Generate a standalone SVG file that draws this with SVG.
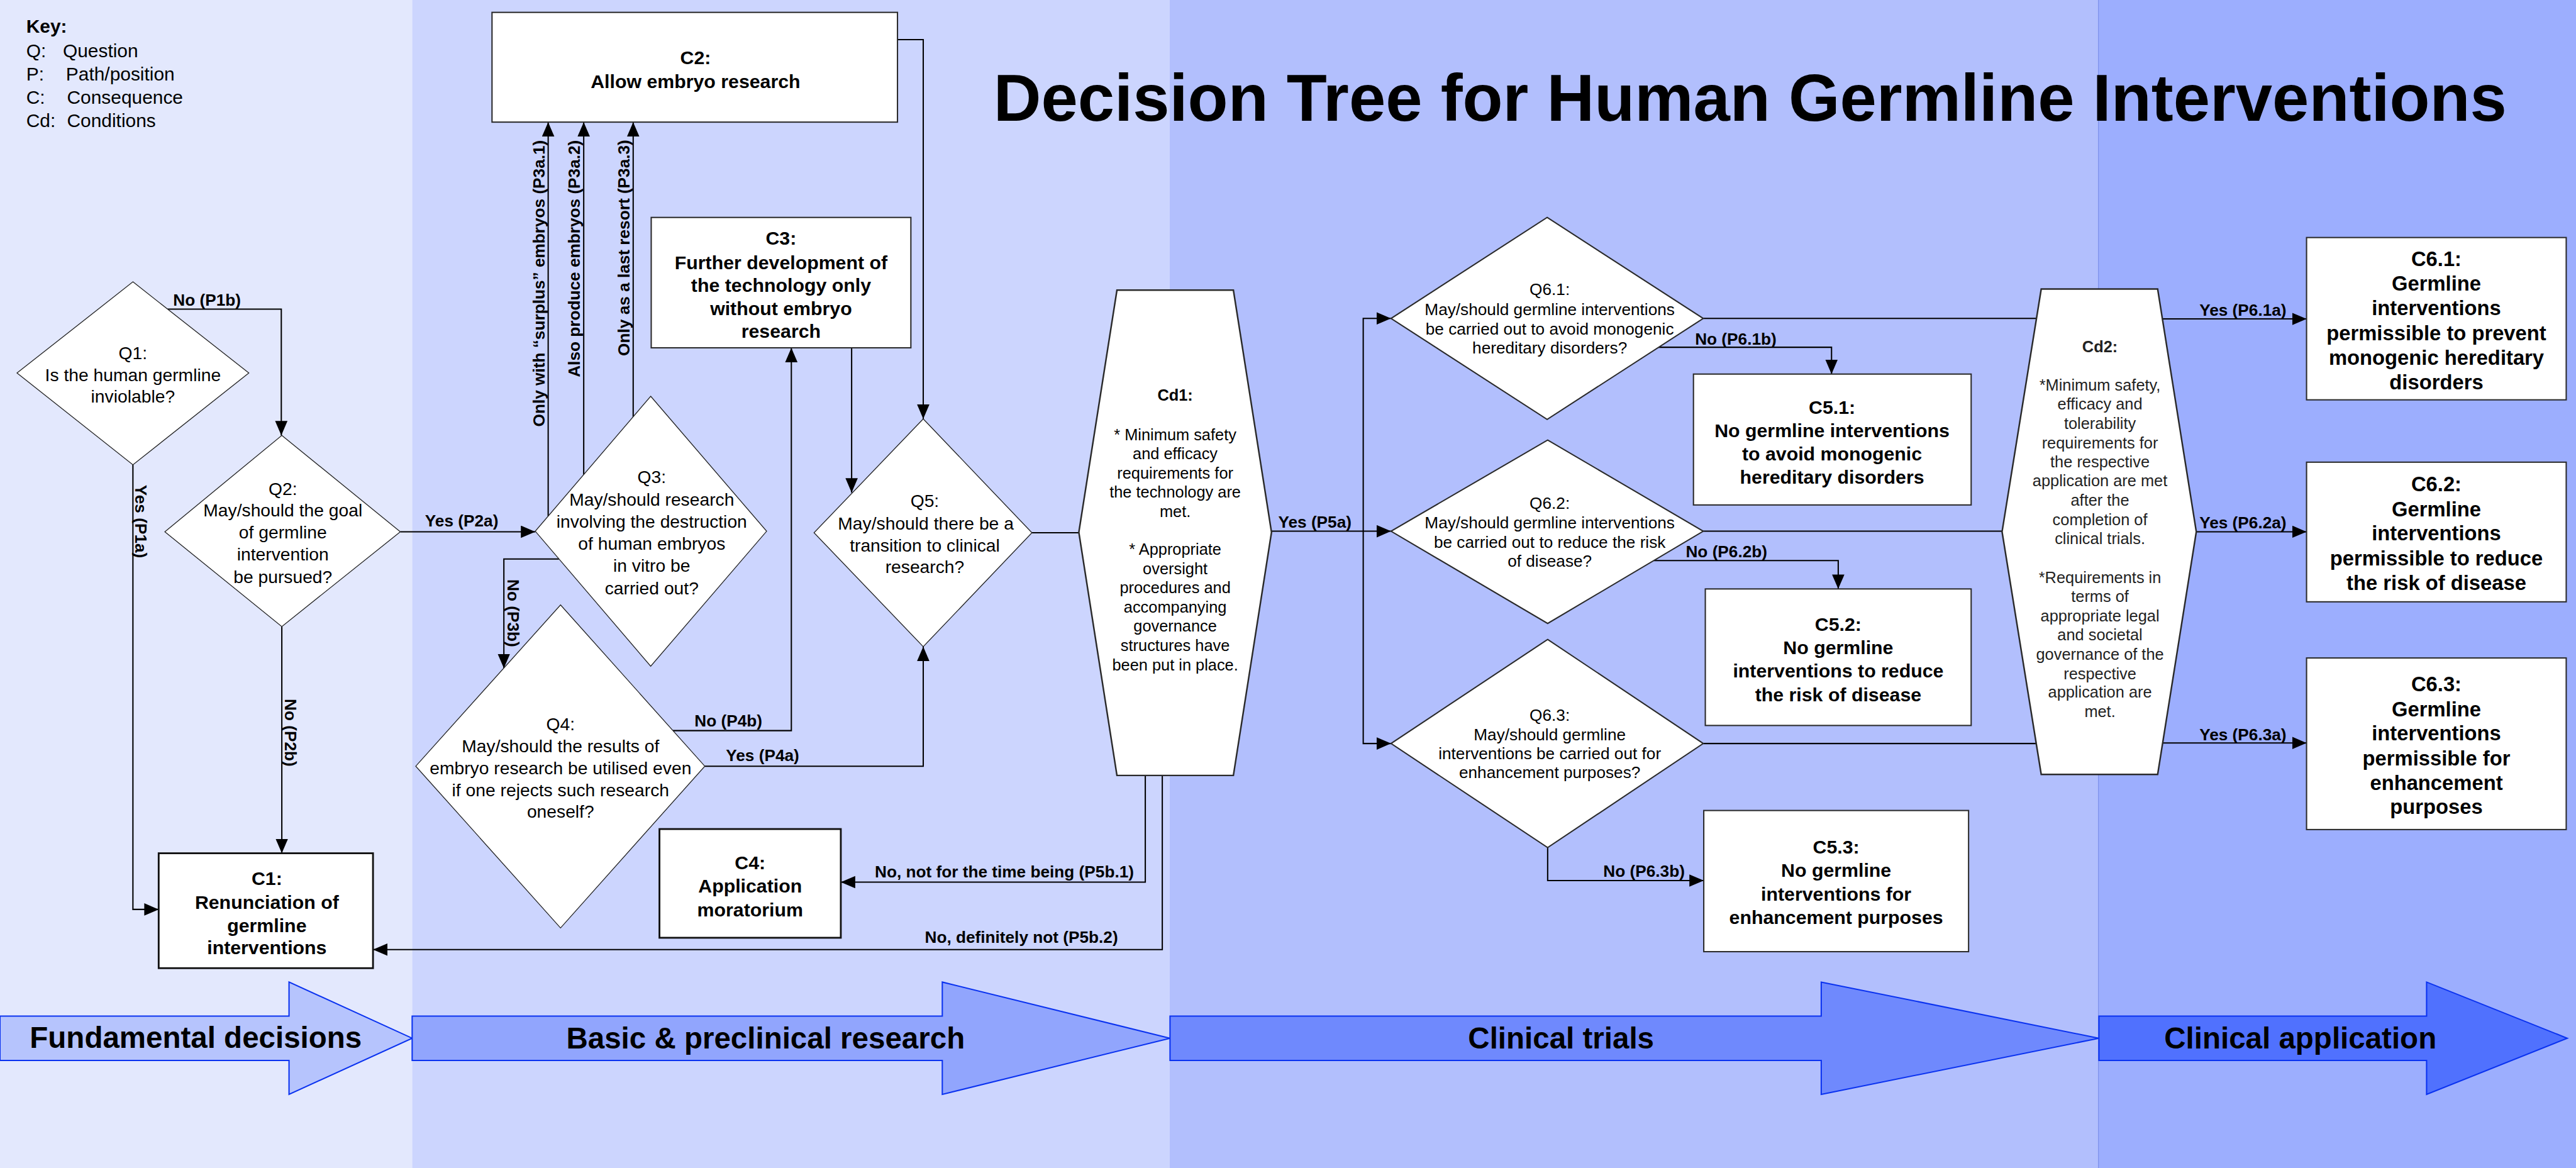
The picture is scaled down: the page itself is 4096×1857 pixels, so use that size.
<svg xmlns="http://www.w3.org/2000/svg" width="4096" height="1857" viewBox="0 0 4096 1857">
<style>
text { font-family: "Liberation Sans", Arial, Helvetica, sans-serif; fill: #000; }
.q { font-size: 34.5px; text-anchor: middle; }
.q6 { font-size: 32px; text-anchor: middle; }
.cd { font-size: 31px; text-anchor: middle; }
.c { font-size: 37px; font-weight: bold; text-anchor: middle; }
.c6 { font-size: 40px; font-weight: bold; text-anchor: middle; }
.lbl { font-size: 32px; font-weight: bold; }
.lblm { font-size: 32px; font-weight: bold; text-anchor: middle; }
.ph { font-size: 58px; font-weight: bold; text-anchor: middle; }
.key { font-size: 36.5px; }
.dia { fill: #fff; stroke: #222; stroke-width: 1.6; }
.dia6 { fill: #fff; stroke: #2a2a2a; stroke-width: 2.5; }
.box { fill: #fff; stroke: #2a2a2a; stroke-width: 2.5; }
.boxk { fill: #fff; stroke: #111; stroke-width: 3.5; }
.hex { fill: #fff; stroke: #2a2a2a; stroke-width: 3; }
.con { fill: none; stroke: #000; stroke-width: 2.5; }
.arr { stroke: #0a32f0; stroke-width: 2.5; }
</style>
<defs>
<marker id="ah" markerUnits="userSpaceOnUse" markerWidth="30" markerHeight="26" refX="28" refY="12" orient="auto">
<path d="M0,0 L28,12 L0,24 z" fill="#000"/>
</marker>
</defs>
<g transform="scale(0.8192)">
<g id="background">
<rect x="0" y="0" width="800" height="2267" fill="#E3E8FD"/>
<rect x="800" y="0" width="1470" height="2267" fill="#CCD5FE"/>
<rect x="2270" y="0" width="1803" height="2267" fill="#B2BFFD"/>
<rect x="4073" y="0" width="927" height="2267" fill="#9CAEFE"/>
<line x1="4073" y1="0" x2="4073" y2="2267" stroke="#7f92ea" stroke-width="1.5"/>
</g>
<g id="phases">
<polygon class="arr" fill="#B6C4FD" points="0,1972 561,1972 561,1906 800,2015 561,2124 561,2058 0,2058"/>
<polygon class="arr" fill="#91A5FD" points="800,1972 1829,1972 1829,1906 2271,2015 1829,2124 1829,2058 800,2058"/>
<polygon class="arr" fill="#6F89FD" points="2271,1972 3535,1972 3535,1906 4074,2015 3535,2124 3535,2058 2271,2058"/>
<polygon class="arr" fill="#5071FE" points="4074,1972 4710,1972 4710,1906 4983,2015 4710,2124 4710,2058 4074,2058"/>
<text class="ph" x="380" y="2034">Fundamental decisions</text>
<text class="ph" x="1486" y="2035">Basic &amp; preclinical research</text>
<text class="ph" x="3030" y="2035">Clinical trials</text>
<text class="ph" x="4465" y="2035">Clinical application</text>
</g>
<text id="title" x="3397" y="234" font-size="128" font-weight="bold" text-anchor="middle">Decision Tree for Human Germline Interventions</text>
<g id="key">
<text class="key" x="51" y="64" font-weight="bold">Key:</text>
<text class="key" x="51" y="111">Q:</text><text class="key" x="122" y="111">Question</text>
<text class="key" x="51" y="156">P:</text><text class="key" x="128" y="156">Path/position</text>
<text class="key" x="51" y="202">C:</text><text class="key" x="130" y="202">Consequence</text>
<text class="key" x="51" y="247">Cd:</text><text class="key" x="130" y="247">Conditions</text>
</g>
<g id="connectors">
<path class="con" d="M325,600 H546 V845" marker-end="url(#ah)"/>
<path class="con" d="M258,902 V1765 H308" marker-end="url(#ah)"/>
<path class="con" d="M547,1216 V1656" marker-end="url(#ah)"/>
<path class="con" d="M777,1032 H1039" marker-end="url(#ah)"/>
<path class="con" d="M1064,1002 V237" marker-end="url(#ah)"/>
<path class="con" d="M1133,921 V237" marker-end="url(#ah)"/>
<path class="con" d="M1229,810 V237" marker-end="url(#ah)"/>
<path class="con" d="M1085,1085 H978 V1297" marker-end="url(#ah)"/>
<path class="con" d="M1306,1418 H1536 V675" marker-end="url(#ah)"/>
<path class="con" d="M1368,1487 H1792 V1255" marker-end="url(#ah)"/>
<path class="con" d="M1742,77 H1792 V813" marker-end="url(#ah)"/>
<path class="con" d="M1653,675 V956" marker-end="url(#ah)"/>
<path class="con" d="M2003,1034 H2094"/>
<path class="con" d="M2468,1031 H2700" marker-end="url(#ah)"/>
<path class="con" d="M2646,1031 V618 H2700" marker-end="url(#ah)"/>
<path class="con" d="M2646,1031 V1443 H2700" marker-end="url(#ah)"/>
<path class="con" d="M2223,1505 V1712 H1632" marker-end="url(#ah)"/>
<path class="con" d="M2256,1505 V1843 H724" marker-end="url(#ah)"/>
<path class="con" d="M3219,674 H3555 V726" marker-end="url(#ah)"/>
<path class="con" d="M3210,1088 H3568 V1143" marker-end="url(#ah)"/>
<path class="con" d="M3004,1645 V1709 H3307" marker-end="url(#ah)"/>
<path class="con" d="M3306,618 H3953"/>
<path class="con" d="M3306,1031 H3886"/>
<path class="con" d="M3306,1443 H3952"/>
<path class="con" d="M4197,619 H4477" marker-end="url(#ah)"/>
<path class="con" d="M4263,1032 H4477" marker-end="url(#ah)"/>
<path class="con" d="M4198,1442 H4477" marker-end="url(#ah)"/>
<text class="lbl" x="336" y="593">No (P1b)</text>
<text class="lblm" transform="translate(263,1012) rotate(90)">Yes (P1a)</text>
<text class="lblm" transform="translate(553,1422) rotate(90)">No (P2b)</text>
<text class="lbl" x="825" y="1022">Yes (P2a)</text>
<text class="lblm" transform="translate(1057,550) rotate(-90)">Only with “surplus” embryos (P3a.1)</text>
<text class="lblm" transform="translate(1126,502) rotate(-90)">Also produce embryos (P3a.2)</text>
<text class="lblm" transform="translate(1222,481) rotate(-90)">Only as a last resort (P3a.3)</text>
<text class="lblm" transform="translate(985,1190) rotate(90)">No (P3b)</text>
<text class="lbl" x="1348" y="1410">No (P4b)</text>
<text class="lbl" x="1409" y="1477">Yes (P4a)</text>
<text class="lbl" x="2481" y="1024">Yes (P5a)</text>
<text class="lbl" x="1698" y="1703">No, not for the time being (P5b.1)</text>
<text class="lbl" x="1795" y="1830">No, definitely not (P5b.2)</text>
<text class="lbl" x="3290" y="669">No (P6.1b)</text>
<text class="lbl" x="3272" y="1082">No (P6.2b)</text>
<text class="lbl" x="3112" y="1702">No (P6.3b)</text>
<text class="lbl" x="4269" y="613">Yes (P6.1a)</text>
<text class="lbl" x="4269" y="1026">Yes (P6.2a)</text>
<text class="lbl" x="4269" y="1437">Yes (P6.3a)</text>
</g>
<g id="Q1">
<polygon class="dia" points="258,547 483,724 258,902 33,724"/>
<text class="q"><tspan x="258" y="697">Q1:</tspan><tspan x="258" y="740">Is the human germline</tspan><tspan x="258" y="781">inviolable?</tspan></text>
</g>
<g id="Q2">
<polygon class="dia" points="547,845 777,1032 547,1216 320,1032"/>
<text class="q"><tspan x="549" y="961">Q2:</tspan><tspan x="549" y="1002">May/should the goal</tspan><tspan x="549" y="1045">of germline</tspan><tspan x="549" y="1088">intervention</tspan><tspan x="549" y="1131">be pursued?</tspan></text>
</g>
<g id="Q3">
<polygon class="dia" points="1263,769 1488,1031 1263,1293 1039,1031"/>
<text class="q"><tspan x="1265" y="938">Q3:</tspan><tspan x="1265" y="982">May/should research</tspan><tspan x="1265" y="1024">involving the destruction</tspan><tspan x="1265" y="1067">of human embryos</tspan><tspan x="1265" y="1110">in vitro be</tspan><tspan x="1265" y="1153">carried out?</tspan></text>
</g>
<g id="Q4">
<polygon class="dia" points="1088,1174 1368,1487 1088,1801 807,1487"/>
<text class="q"><tspan x="1088" y="1417">Q4:</tspan><tspan x="1088" y="1460">May/should the results of</tspan><tspan x="1088" y="1503">embryo research be utilised even</tspan><tspan x="1088" y="1545">if one rejects such research</tspan><tspan x="1088" y="1587">oneself?</tspan></text>
</g>
<g id="Q5">
<polygon class="dia" points="1792,813 2003,1034 1792,1255 1580,1034"/>
<text class="q"><tspan x="1795" y="984">Q5:</tspan><tspan x="1797" y="1028">May/should there be a</tspan><tspan x="1795" y="1070">transition to clinical</tspan><tspan x="1795" y="1112">research?</tspan></text>
</g>
<g id="C1">
<rect class="boxk" x="308" y="1656" width="416" height="223"/>
<text class="c"><tspan x="518" y="1718">C1:</tspan><tspan x="518" y="1764">Renunciation of</tspan><tspan x="518" y="1809">germline</tspan><tspan x="518" y="1852">interventions</tspan></text>
</g>
<g id="C2">
<rect class="box" x="955" y="24" width="787" height="213"/>
<text class="c"><tspan x="1350" y="124">C2:</tspan><tspan x="1350" y="171">Allow embryo research</tspan></text>
</g>
<g id="C3">
<rect class="box" x="1264" y="422" width="504" height="253"/>
<text class="c"><tspan x="1516" y="475">C3:</tspan><tspan x="1516" y="522">Further development of</tspan><tspan x="1516" y="566">the technology only</tspan><tspan x="1516" y="612">without embryo</tspan><tspan x="1516" y="656">research</tspan></text>
</g>
<g id="C4">
<rect class="boxk" x="1280" y="1609" width="352" height="211"/>
<text class="c"><tspan x="1456" y="1687">C4:</tspan><tspan x="1456" y="1732">Application</tspan><tspan x="1456" y="1778">moratorium</tspan></text>
</g>
<g id="Cd1">
<polygon class="hex" points="2168,563 2394,563 2468,1033 2394,1505 2168,1505 2094,1033"/>
<text class="cd"><tspan x="2281" y="777" font-weight="bold">Cd1:</tspan><tspan x="2281" y="854">* Minimum safety</tspan><tspan x="2281" y="891">and efficacy</tspan><tspan x="2281" y="929">requirements for</tspan><tspan x="2281" y="966">the technology are</tspan><tspan x="2281" y="1004">met.</tspan><tspan x="2281" y="1077">* Appropriate</tspan><tspan x="2281" y="1114">oversight</tspan><tspan x="2281" y="1151">procedures and</tspan><tspan x="2281" y="1189">accompanying</tspan><tspan x="2281" y="1226">governance</tspan><tspan x="2281" y="1263">structures have</tspan><tspan x="2281" y="1301">been put in place.</tspan></text>
</g>
<g id="Q6.1">
<polygon class="dia6" points="3003,422 3306,618 3003,814 2700,618"/>
<text class="q6"><tspan x="3008" y="573">Q6.1:</tspan><tspan x="3008" y="612">May/should germline interventions</tspan><tspan x="3008" y="649">be carried out to avoid monogenic</tspan><tspan x="3008" y="686">hereditary disorders?</tspan></text>
</g>
<g id="Q6.2">
<polygon class="dia6" points="3004,854 3306,1031 3004,1210 2700,1031"/>
<text class="q6"><tspan x="3008" y="988">Q6.2:</tspan><tspan x="3008" y="1026">May/should germline interventions</tspan><tspan x="3008" y="1063">be carried out to reduce the risk</tspan><tspan x="3008" y="1100">of disease?</tspan></text>
</g>
<g id="Q6.3">
<polygon class="dia6" points="3004,1241 3306,1443 3004,1645 2700,1443"/>
<text class="q6"><tspan x="3008" y="1399">Q6.3:</tspan><tspan x="3008" y="1437">May/should germline</tspan><tspan x="3008" y="1473">interventions be carried out for</tspan><tspan x="3008" y="1510">enhancement purposes?</tspan></text>
</g>
<g id="C5.1">
<rect class="box" x="3287" y="726" width="539" height="254"/>
<text class="c"><tspan x="3556" y="803">C5.1:</tspan><tspan x="3556" y="848">No germline interventions</tspan><tspan x="3556" y="893">to avoid monogenic</tspan><tspan x="3556" y="939">hereditary disorders</tspan></text>
</g>
<g id="C5.2">
<rect class="box" x="3310" y="1143" width="516" height="265"/>
<text class="c"><tspan x="3568" y="1224">C5.2:</tspan><tspan x="3568" y="1269">No germline</tspan><tspan x="3568" y="1315">interventions to reduce</tspan><tspan x="3568" y="1361">the risk of disease</tspan></text>
</g>
<g id="C5.3">
<rect class="box" x="3307" y="1573" width="514" height="274"/>
<text class="c"><tspan x="3564" y="1657">C5.3:</tspan><tspan x="3564" y="1702">No germline</tspan><tspan x="3564" y="1748">interventions for</tspan><tspan x="3564" y="1793">enhancement purposes</tspan></text>
</g>
<g id="Cd2">
<polygon class="hex" points="3962,561 4188,561 4263,1032 4188,1503 3962,1503 3886,1032"/>
<text class="cd" style="fill:#222"><tspan x="4076" y="683" font-weight="bold">Cd2:</tspan><tspan x="4076" y="758">*Minimum safety,</tspan><tspan x="4076" y="795">efficacy and</tspan><tspan x="4076" y="832">tolerability</tspan><tspan x="4076" y="870">requirements for</tspan><tspan x="4076" y="907">the respective</tspan><tspan x="4076" y="944">application are met</tspan><tspan x="4076" y="982">after the</tspan><tspan x="4076" y="1019">completion of</tspan><tspan x="4076" y="1056">clinical trials.</tspan><tspan x="4076" y="1131">*Requirements in</tspan><tspan x="4076" y="1168">terms of</tspan><tspan x="4076" y="1206">appropriate legal</tspan><tspan x="4076" y="1243">and societal</tspan><tspan x="4076" y="1280">governance of the</tspan><tspan x="4076" y="1318">respective</tspan><tspan x="4076" y="1354">application are</tspan><tspan x="4076" y="1392">met.</tspan></text>
</g>
<g id="C6.1">
<rect class="box" x="4477" y="461" width="504" height="315"/>
<text class="c6"><tspan x="4729" y="516">C6.1:</tspan><tspan x="4729" y="564">Germline</tspan><tspan x="4729" y="612">interventions</tspan><tspan x="4729" y="660">permissible to prevent</tspan><tspan x="4729" y="708">monogenic hereditary</tspan><tspan x="4729" y="756">disorders</tspan></text>
</g>
<g id="C6.2">
<rect class="box" x="4477" y="897" width="504" height="271"/>
<text class="c6"><tspan x="4729" y="953">C6.2:</tspan><tspan x="4729" y="1002">Germline</tspan><tspan x="4729" y="1049">interventions</tspan><tspan x="4729" y="1097">permissible to reduce</tspan><tspan x="4729" y="1145">the risk of disease</tspan></text>
</g>
<g id="C6.3">
<rect class="box" x="4477" y="1277" width="504" height="333"/>
<text class="c6"><tspan x="4729" y="1341">C6.3:</tspan><tspan x="4729" y="1390">Germline</tspan><tspan x="4729" y="1437">interventions</tspan><tspan x="4729" y="1485">permissible for</tspan><tspan x="4729" y="1533">enhancement</tspan><tspan x="4729" y="1580">purposes</tspan></text>
</g>
</g>
</svg>
